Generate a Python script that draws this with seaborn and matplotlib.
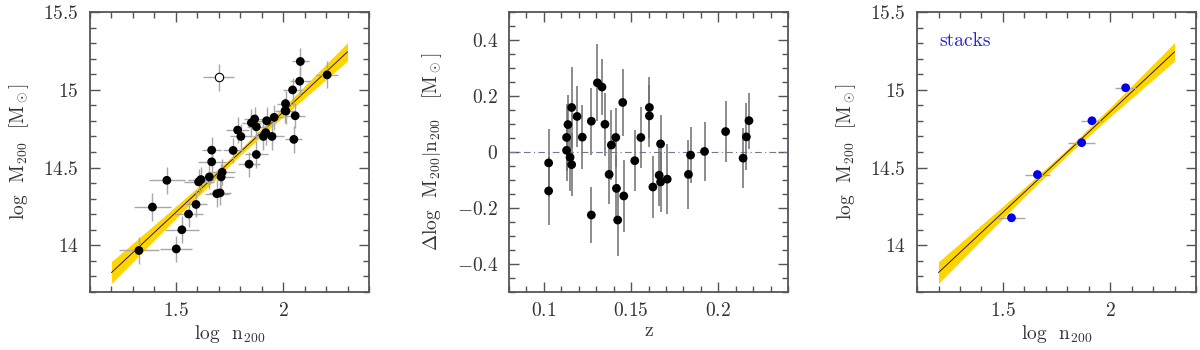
import numpy as np
import matplotlib
matplotlib.use("Agg")
import matplotlib.pyplot as plt
import seaborn as sns
from matplotlib.ticker import MultipleLocator, FuncFormatter

# left panel: individual clusters
n200_log = [1.328, 1.391, 1.458, 1.502, 1.528, 1.559, 1.594, 1.606, 1.617, 1.656,
            1.667, 1.667, 1.691, 1.706, 1.711, 1.716, 1.767, 1.788, 1.803, 1.841,
            1.852, 1.867, 1.875, 1.875, 1.908, 1.919, 1.923, 1.948, 1.958, 2.009,
            2.011, 2.013, 2.044, 2.050, 2.056, 2.077, 2.080, 2.205]
m200_log = [13.967, 14.246, 14.418, 13.977, 14.100, 14.201, 14.263, 14.408, 14.423, 14.440,
            14.537, 14.612, 14.332, 14.337, 14.440, 14.470, 14.610, 14.741, 14.700, 14.522,
            14.788, 14.812, 14.584, 14.762, 14.700, 14.724, 14.801, 14.700, 14.823, 14.866,
            14.911, 14.863, 14.999, 14.681, 14.833, 15.055, 15.182, 15.096]
n200_err = [0.094, 0.086, 0.084, 0.074, 0.078, 0.066, 0.050, 0.070, 0.060, 0.060,
            0.066, 0.043, 0.055, 0.050, 0.058, 0.060, 0.047, 0.055, 0.050, 0.050,
            0.043, 0.050, 0.055, 0.045, 0.047, 0.045, 0.045, 0.055, 0.045, 0.047,
            0.040, 0.040, 0.043, 0.040, 0.047, 0.047, 0.040, 0.050]
m200_err = [0.086, 0.090, 0.088, 0.086, 0.086, 0.086, 0.084, 0.080, 0.080, 0.080,
            0.086, 0.086, 0.086, 0.080, 0.080, 0.083, 0.080, 0.086, 0.080, 0.080,
            0.090, 0.080, 0.086, 0.080, 0.090, 0.080, 0.090, 0.086, 0.080, 0.080,
            0.080, 0.086, 0.075, 0.088, 0.080, 0.086, 0.086, 0.086]
# the one excluded (open) cluster
out_n200, out_m200 = [1.70], [15.08]
out_n200_err, out_m200_err = [0.073], [0.088]

# fitted relation and its uncertainty band
fit_x = [1.2, 1.4, 1.6, 1.8, 2.0, 2.2, 2.3]
fit_y = [13.825, 14.083, 14.341, 14.599, 14.857, 15.115, 15.244]
band_lo = [13.755, 14.034, 14.311, 14.579, 14.827, 15.066, 15.185]
band_hi = [13.895, 14.132, 14.371, 14.619, 14.887, 15.164, 15.303]

# middle panel: residuals vs redshift
z = [0.1027, 0.1027, 0.1130, 0.1130, 0.1138, 0.1150, 0.1159, 0.1159, 0.1190, 0.1220,
     0.1272, 0.1272, 0.1307, 0.1333, 0.1350, 0.1374, 0.1387, 0.1412, 0.1416, 0.1423,
     0.1452, 0.1458, 0.1521, 0.1556, 0.1605, 0.1605, 0.1625, 0.1661, 0.1669, 0.1669,
     0.1707, 0.1829, 0.1841, 0.1921, 0.2042, 0.2142, 0.2161, 0.2176]
resid = [-0.039, -0.139, 0.052, 0.006, 0.098, -0.019, 0.159, -0.045, 0.127, 0.053,
         0.110, -0.225, 0.247, 0.232, 0.099, -0.080, 0.025, 0.052, -0.130, -0.243,
         0.177, -0.157, -0.031, 0.052, 0.159, 0.129, -0.125, -0.083, 0.029, -0.107,
         -0.097, -0.080, -0.011, 0.002, 0.073, -0.022, 0.054, 0.112]
resid_err = [0.120, 0.120, 0.120, 0.110, 0.105, 0.120, 0.144, 0.112, 0.110, 0.115,
             0.120, 0.100, 0.137, 0.100, 0.112, 0.106, 0.124, 0.104, 0.120, 0.130,
             0.120, 0.130, 0.108, 0.108, 0.110, 0.110, 0.110, 0.110, 0.103, 0.108,
             0.125, 0.124, 0.100, 0.104, 0.110, 0.106, 0.120, 0.100]

# right panel: stacks
stack_n200 = [1.540, 1.661, 1.867, 1.915, 2.072]
stack_m200 = [14.177, 14.455, 14.660, 14.801, 15.013]
stack_n200_err = [0.062, 0.057, 0.062, 0.052, 0.050]
stack_m200_err = [0.015, 0.030, 0.020, 0.020, 0.015]

sns.set_style("ticks")
plt.rcParams["font.family"] = ["cmr10", "DejaVu Serif"]
plt.rcParams["mathtext.fontset"] = "cm"
plt.rcParams["axes.formatter.use_mathtext"] = True
plt.rcParams["text.color"] = "#333333"
plt.rcParams["axes.labelcolor"] = "#333333"

fs = 14
frame = "#555555"


def fmt(v, pos):
    return "$%g$" % round(v, 3)


def style_axes(ax, xmaj, xmin, ymaj, ymin):
    ax.xaxis.set_major_locator(MultipleLocator(xmaj))
    ax.xaxis.set_minor_locator(MultipleLocator(xmin))
    ax.yaxis.set_major_locator(MultipleLocator(ymaj))
    ax.yaxis.set_minor_locator(MultipleLocator(ymin))
    ax.xaxis.set_major_formatter(FuncFormatter(fmt))
    ax.yaxis.set_major_formatter(FuncFormatter(fmt))
    ax.tick_params(which="both", direction="in", top=True, right=True,
                   color=frame, labelsize=fs, labelcolor="#333333", width=1)
    ax.tick_params(which="major", length=7, pad=8)
    ax.tick_params(axis="x", which="major", pad=7)
    ax.tick_params(which="minor", length=4)
    for s in ax.spines.values():
        s.set_color(frame)
        s.set_linewidth(1.3)


def draw_fit(ax):
    ax.fill_between(fit_x, band_lo, band_hi, color="#ffd500", lw=0, zorder=1)
    sns.lineplot(x=fit_x, y=fit_y, ax=ax, color="#3a1a10", lw=0.7, zorder=2)


fig = plt.figure(figsize=(12, 3.5), dpi=100)
ax1 = fig.add_axes([0.075, 0.1657, 0.2325, 0.8])
ax2 = fig.add_axes([0.4242, 0.1657, 0.2325, 0.8])
ax3 = fig.add_axes([0.7642, 0.1657, 0.2325, 0.8])

# left
draw_fit(ax1)
ax1.errorbar(n200_log, m200_log, xerr=n200_err, yerr=m200_err, fmt="none",
             ecolor="#a8a8a8", elinewidth=1, zorder=3)
ax1.errorbar(out_n200, out_m200, xerr=out_n200_err, yerr=out_m200_err, fmt="none",
             ecolor="#a8a8a8", elinewidth=1, zorder=3)
sns.scatterplot(x=n200_log, y=m200_log, ax=ax1, color="black", s=40,
                edgecolor="none", zorder=4)
ax1.scatter(out_n200, out_m200, s=36, facecolor="white", edgecolor="black",
            linewidth=0.8, zorder=4)
ax1.set_xlim(1.1, 2.4)
ax1.set_ylim(13.7, 15.5)
style_axes(ax1, 0.5, 0.1, 0.5, 0.1)
ax1.set_xlabel(r"log  n$_{200}$", fontsize=fs, labelpad=2)
ax1.set_ylabel(r"log  M$_{200}$  [M$_\odot$]", fontsize=fs, labelpad=9)

# middle
ax2.axhline(0, color="#6a7a9a", lw=0.8, ls=(0, (6, 3, 1, 3)), zorder=1)
ax2.errorbar(z, resid, yerr=resid_err, fmt="none", ecolor="#6e6e6e",
             elinewidth=1.1, zorder=2)
sns.scatterplot(x=z, y=resid, ax=ax2, color="black", s=40, edgecolor="none",
                zorder=3)
ax2.set_xlim(0.08, 0.24)
ax2.set_ylim(-0.5, 0.5)
style_axes(ax2, 0.05, 0.01, 0.2, 0.05)
ax2.set_xlabel("z", fontsize=fs, labelpad=2)
ax2.set_ylabel(r"$\Delta$log  M$_{200}|$n$_{200}$   [M$_\odot$]", fontsize=fs,
               labelpad=9)

# right
draw_fit(ax3)
ax3.errorbar(stack_n200, stack_m200, xerr=stack_n200_err, yerr=stack_m200_err,
             fmt="none", ecolor="#a8a8a8", elinewidth=1, zorder=3)
sns.scatterplot(x=stack_n200, y=stack_m200, ax=ax3, color="#0000ee", s=40,
                edgecolor="none", zorder=4)
ax3.text(0.08, 0.93, "stacks", transform=ax3.transAxes, color="#2020dd",
         fontsize=fs, va="top", ha="left")
ax3.set_xlim(1.1, 2.4)
ax3.set_ylim(13.7, 15.5)
style_axes(ax3, 0.5, 0.1, 0.5, 0.1)
ax3.set_xlabel(r"log  n$_{200}$", fontsize=fs, labelpad=2)
ax3.set_ylabel(r"log  M$_{200}$  [M$_\odot$]", fontsize=fs, labelpad=9)

fig.savefig("out.png", dpi=100)
